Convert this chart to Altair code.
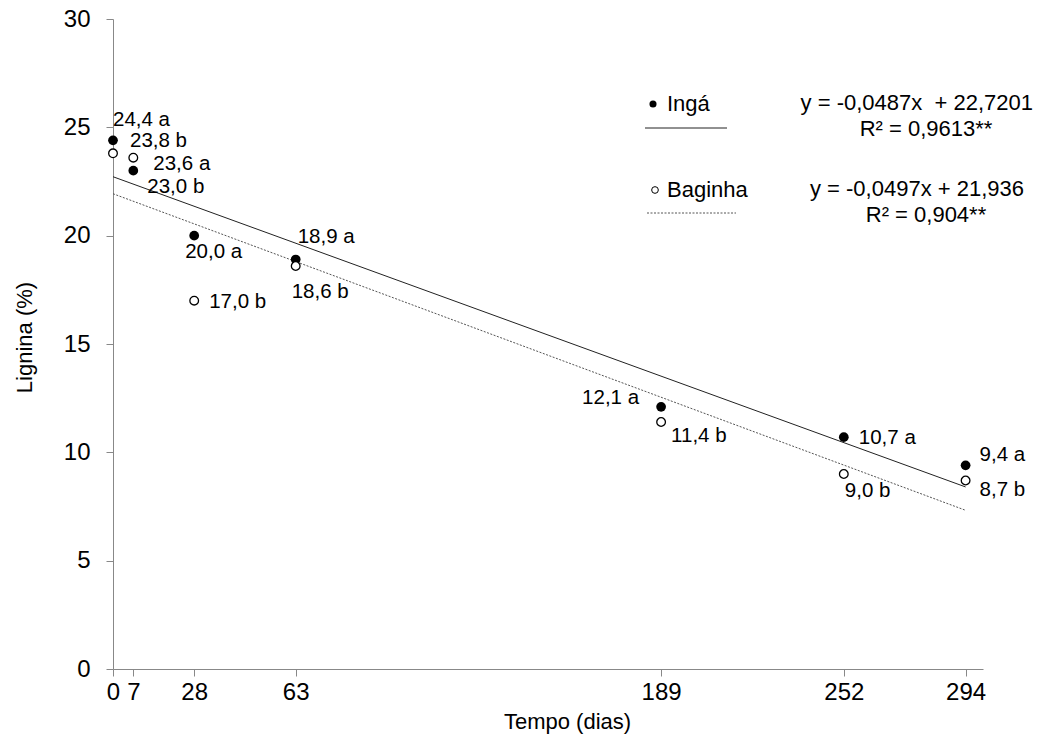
import altair as alt
import pandas as pd

# ---- data ----
days = [0, 7, 28, 63, 189, 252, 294]
inga = [24.4, 23.0, 20.0, 18.9, 12.1, 10.7, 9.4]
baginha = [23.8, 23.6, 17.0, 18.6, 11.4, 9.0, 8.7]
inga_labels = ["24,4 a", "23,0 b", "20,0 a", "18,9 a", "12,1 a", "10,7 a", "9,4 a"]
baginha_labels = ["23,8 b", "23,6 a", "17,0 b", "18,6 b", "11,4 b", "9,0 b", "8,7 b"]
x_ticks = [0, 7, 28, 63, 189, 252, 294]
y_ticks = [0, 5, 10, 15, 20, 25, 30]
slopes = [-0.0487, -0.0497]
intercepts = [22.7201, 21.936]
series_names = ["Ingá", "Baginha"]
equations = ["y = -0,0487x\u00a0 + 22,7201", "y = -0,0497x + 21,936"]
r2_texts = ["R² = 0,9613**", "R² = 0,904**"]

# ---- label placement (style: pixel offsets dx, dy, align) ----
inga_offsets = [(0, -20, "left"), (14, 16, "left"), (-9, 16, "left"), (2, -23, "left"),
                (-22, -9, "right"), (15, 1, "left"), (14, -10, "left")]
bag_offsets = [(17, -12, "left"), (20, 6, "left"), (15, 1, "left"), (-4, 26, "left"),
               (10, 14, "left"), (1, 17, "left"), (14, 9, "left")]

FONT = "Liberation Sans"
W, H = 870, 650
LBL = 20.5

xscale = alt.Scale(domain=[0, 300], nice=False, zero=False)
yscale = alt.Scale(domain=[0, 30], nice=False)

df_i = pd.DataFrame({"day": days, "val": inga, "lab": inga_labels})
df_b = pd.DataFrame({"day": days, "val": baginha, "lab": baginha_labels})

xenc = alt.X("day:Q", scale=xscale,
             axis=alt.Axis(values=x_ticks, title="Tempo (dias)", labelPadding=4,
                           labelFlush=False, titleX=454, titleY=52,
                           titleBaseline="middle", titleAlign="center"))
yenc = alt.Y("val:Q", scale=yscale,
             axis=alt.Axis(values=y_ticks, title="Lignina (%)", labelPadding=16,
                           titleX=-89, titleY=318, titleBaseline="middle",
                           titleAlign="center", titleAngle=270))

# regression lines
reg_df = pd.DataFrame({
    "series": [series_names[0], series_names[0], series_names[1], series_names[1]],
    "day": [0, 294, 0, 294],
    "slope": [slopes[0], slopes[0], slopes[1], slopes[1]],
    "icpt": [intercepts[0], intercepts[0], intercepts[1], intercepts[1]],
})
reg_base = alt.Chart(reg_df).transform_calculate(val="datum.slope * datum.day + datum.icpt")
line_i = reg_base.transform_filter(alt.datum.series == series_names[0]).mark_line(
    color="#222222", strokeWidth=1).encode(x=xenc, y=yenc)
line_b = reg_base.transform_filter(alt.datum.series == series_names[1]).mark_line(
    color="#555555", strokeWidth=1, strokeDash=[2, 1.5]).encode(x=xenc, y=yenc)

pts_i = alt.Chart(df_i).mark_point(shape="circle", filled=True, color="black",
                                   size=95, opacity=1).encode(x=xenc, y=yenc)
pts_b = alt.Chart(df_b).mark_point(shape="circle", filled=True, fill="white",
                                   stroke="black", strokeWidth=1.3, size=75,
                                   opacity=1).encode(x=xenc, y=yenc)

layers = [line_i, line_b, pts_i, pts_b]

for df, offs in ((df_i, inga_offsets), (df_b, bag_offsets)):
    for i in range(len(df)):
        dx, dy, al = offs[i]
        layers.append(
            alt.Chart(df.iloc[[i]]).mark_text(font=FONT, fontSize=LBL, color="black",
                                              align=al, baseline="middle", dx=dx, dy=dy)
            .encode(x=alt.X("day:Q", scale=xscale), y=alt.Y("val:Q", scale=yscale),
                    text="lab:N")
        )

# custom legend (pixel positions inside plot area)
one = pd.DataFrame({"k": [0]})


def txt(s, x, y, align="left", size=22):
    return alt.Chart(one).mark_text(text=s, font=FONT, fontSize=size, color="black",
                                    align=align, baseline="middle").encode(
        x=alt.value(x), y=alt.value(y))


layers += [
    alt.Chart(one).mark_point(shape="circle", filled=True, color="black", size=50,
                              opacity=1).encode(x=alt.value(540), y=alt.value(85)),
    txt(series_names[0], 554, 85),
    alt.Chart(one).mark_rule(color="#222222", strokeWidth=1).encode(
        x=alt.value(532), x2=alt.value(614), y=alt.value(109)),
    alt.Chart(one).mark_point(shape="circle", filled=True, fill="white", stroke="black",
                              strokeWidth=1, size=45, opacity=1).encode(
        x=alt.value(542), y=alt.value(171)),
    txt(series_names[1], 554, 171),
    alt.Chart(one).mark_rule(color="#555555", strokeWidth=1, strokeDash=[2, 1.5]).encode(
        x=alt.value(534), x2=alt.value(623), y=alt.value(194)),
    txt(equations[0], 920, 84, "right"),
    txt(r2_texts[0], 813, 110, "center"),
    txt(equations[1], 911, 170, "right"),
    txt(r2_texts[1], 813, 196, "center"),
]

chart = alt.layer(*layers).properties(
    width=W, height=H,
    background="white",
    autosize=alt.AutoSizeParams(type="none"),
    padding={"left": 113, "top": 19, "right": 72, "bottom": 68},
).configure_view(stroke=None).configure_axis(
    grid=False, domainColor="#888888", tickColor="#888888", tickSize=7,
    labelFont=FONT, labelFontSize=24, labelColor="black",
    titleFont=FONT, titleFontSize=22, titleFontWeight="normal", titleColor="black",
)

chart.save("out.html", embed_options={"renderer": "svg", "actions": False})
